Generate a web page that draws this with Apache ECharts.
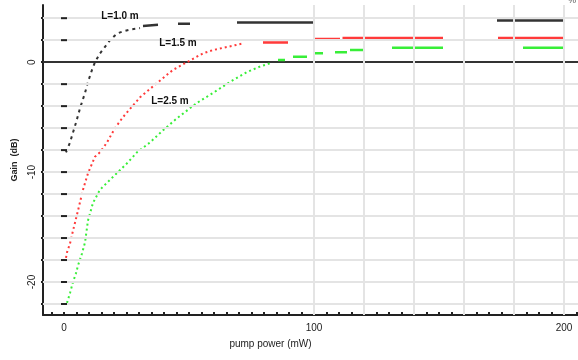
<!DOCTYPE html>
<html><head><meta charset="utf-8">
<script src="https://cdn.jsdelivr.net/npm/echarts@6/dist/echarts.min.js"></script>
<style>html,body{margin:0;padding:0;background:#fff}#c{width:578px;height:360px}</style>
</head><body><div id="c"></div>
<script>
// ---- data ----
const xLabels = [0, 100, 200];
const xMinorTicks = [-5,0,5,10,15,20,25,30,35,40,45,50,55,60,65,70,75,80,85,90,95,100,105,110,115,120,125,130,135,140,145,150,155,160,165,170,175,180,185,190,195,200,205];
const yLabels = [0, -10, -20];
const yGrid = [4, 2, -2, -4, -6, -8, -10, -12, -14, -16, -18, -20, -22];
const yTicks = [4, 2, 0, -2, -4, -6, -8, -10, -12, -14, -16, -18, -20, -22];
const xGrid = [100, 120, 140, 160, 180, 200];
const zeroTicks = [100, 120, 140, 160, 180, 200];
const innerTickX = 0;

const blackRise = [[0.8,-8.2],[2.4,-7.3],[3.6,-6.4],[4.8,-5.5],[6.4,-4.2],[8.4,-2.8],[9.6,-1.8],[11.2,-0.7],[12.4,0],[14.4,0.8],[16.4,1.4],[18.4,2.0],[21.2,2.6],[23.6,2.8],[27.2,3.0],[30.4,3.1]];
const blackFlat = [[31.6,3.3],[37.6,3.4],[41,null],[45.6,3.5],[50.4,3.5],[60,null],[69.2,3.6],[99.6,3.6],[140,null],[173.2,3.8],[200,3.8]];
const redRise = [[0.8,-17.8],[1.2,-17.3],[2.4,-16.5],[3.2,-15.7],[5.6,-13.5],[7.6,-11.6],[9.6,-10.1],[12.4,-8.6],[14.4,-8.2],[17.2,-7.3],[20.4,-6.0],[23.6,-5.0],[30.4,-3.2],[37.2,-1.9],[43.6,-0.7],[49.2,0],[55.6,0.8],[59.6,1.1],[63.6,1.3],[71.6,1.7]];
const redFlat = [[79.6,1.8],[89.6,1.8],[95,null],[100.4,2.1],[110.4,2.1],[111,null],[111.4,2.2],[151.6,2.2],[160,null],[173.6,2.2],[200,2.2]];
const greenRise = [[1.2,-21.9],[2.4,-21.0],[3.6,-20.0],[4.8,-19.2],[5.6,-18.5],[7.2,-17.4],[8.4,-16.4],[9.6,-14.4],[11.6,-12.8],[14.4,-11.6],[18.4,-10.7],[21.6,-10.0],[25.2,-9.2],[29.2,-8.2],[34.4,-7.3],[39.6,-6.2],[45.2,-5.1],[53.2,-3.7],[59.6,-2.8],[66.4,-1.8],[73.2,-0.9],[78.4,-0.4],[82.4,-0.1]];
const greenFlat = [[85.6,0.2],[88.4,0.2],[90,null],[91.6,0.5],[97.2,0.5],[99,null],[100.4,0.8],[103.6,0.8],[106,null],[108.4,0.9],[113.2,0.9],[114,null],[114.4,1.1],[120.4,1.1],[126,null],[131.2,1.3],[151.6,1.3],[170,null],[183.6,1.3],[200,1.3]];
const curveLabels = [
  {text: 'L=1.0 m', at: [22.4, 4.2]},
  {text: 'L=1.5 m', at: [45.6, 1.7]},
  {text: 'L=2.5 m', at: [42.4, -3.6]}
];
const colors = {black: '#333333', red: '#ff3a3a', green: '#38ee38'};

// ---- chart ----
const FONT = 'Liberation Sans';
const chart = echarts.init(document.getElementById('c'), null, {renderer: 'canvas'});
const XMIN = -8.4, XMAX = 205.6, YMIN = -23, YMAX = 5.2;

const option = {
  animation: false,
  backgroundColor: '#fff',
  grid: {left: 43, right: 0, top: 5, bottom: 45, containLabel: false},
  xAxis: [{
    type: 'value', min: XMIN, max: XMAX, position: 'bottom',
    axisLine: {onZero: false, lineStyle: {color: '#222', width: 2}},
    axisTick: {show: true, inside: true, length: 3, customValues: xMinorTicks, lineStyle: {color: '#222', width: 2}},
    axisLabel: {customValues: xLabels, color: '#222', fontSize: 10, fontFamily: FONT, margin: 8},
    splitLine: {show: false},
    name: 'pump power (mW)', nameLocation: 'middle', nameGap: 24,
    nameTextStyle: {color: '#222', fontSize: 10, fontFamily: FONT, padding: [0, 80, 0, 0]}
  }, {
    type: 'value', min: XMIN, max: XMAX, position: 'top',
    axisLine: {show: true, onZero: true, lineStyle: {color: '#333', width: 2}},
    axisTick: {show: true, inside: false, length: 3, customValues: zeroTicks, lineStyle: {color: '#111', width: 2}},
    axisLabel: {show: false},
    splitLine: {show: false}
  }],
  yAxis: [{
    type: 'value', min: YMIN, max: YMAX,
    axisLine: {show: true, onZero: false, lineStyle: {color: '#222', width: 2}},
    axisTick: {show: true, length: 2, customValues: yTicks, lineStyle: {color: '#222', width: 2}},
    axisLabel: {customValues: yLabels, rotate: 90, color: '#222', fontSize: 10, fontFamily: FONT, margin: 6},
    splitLine: {show: false},
    name: 'Gain  (dB)', nameLocation: 'middle', nameGap: 20, nameRotate: 90,
    nameTextStyle: {color: '#222', fontSize: 9, fontWeight: 'bold', fontFamily: FONT}
  }],
  series: [
    {type: 'line', data: [], z: 1, silent: true, markLine: {
      silent: true, symbol: 'none', label: {show: false},
      lineStyle: {color: '#e4e4e4', width: 2, type: 'solid'},
      data: xGrid.map(v => ({xAxis: v})).concat(yGrid.map(v => ({yAxis: v})))
    }},
    {type: 'scatter', silent: true, z: 5, symbol: 'rect', symbolSize: [6, 2],
      itemStyle: {color: '#222', opacity: 1, borderWidth: 0}, data: yGrid.map(v => [innerTickX, v])},
    {name: 'blackRise', type: 'line', data: blackRise, showSymbol: false, z: 3,
      lineStyle: {color: colors.black, width: 2, type: [3, 4]}},
    {name: 'blackFlat', type: 'line', data: blackFlat, showSymbol: false, connectNulls: false, z: 3,
      lineStyle: {color: colors.black, width: 2.5}},
    {name: 'redRise', type: 'line', data: redRise, showSymbol: false, z: 3,
      lineStyle: {color: colors.red, width: 2, type: [2, 3]}},
    {name: 'redFlat', type: 'line', data: redFlat, showSymbol: false, connectNulls: false, z: 3,
      lineStyle: {color: colors.red, width: 2.5}},
    {name: 'greenRise', type: 'line', data: greenRise, showSymbol: false, z: 3,
      lineStyle: {color: colors.green, width: 2, type: [2, 3]}},
    {name: 'greenFlat', type: 'line', data: greenFlat, showSymbol: false, connectNulls: false, z: 3,
      lineStyle: {color: colors.green, width: 2.5}},
    {type: 'scatter', silent: true, z: 6, symbolSize: 2, itemStyle: {color: 'rgba(0,0,0,0)'},
      data: curveLabels.map(l => ({value: l.at, name: l.text})),
      label: {show: true, position: 'inside', formatter: '{b}', opacity: 1,
        color: '#111', fontSize: 10, fontWeight: 'bold', fontFamily: FONT}}
  ],
  graphic: [{type: 'text', right: 2, top: -4, style: {text: '%', fontSize: 9, fill: '#555', fontFamily: FONT}}]
};
chart.setOption(option);
</script>
</body></html>
